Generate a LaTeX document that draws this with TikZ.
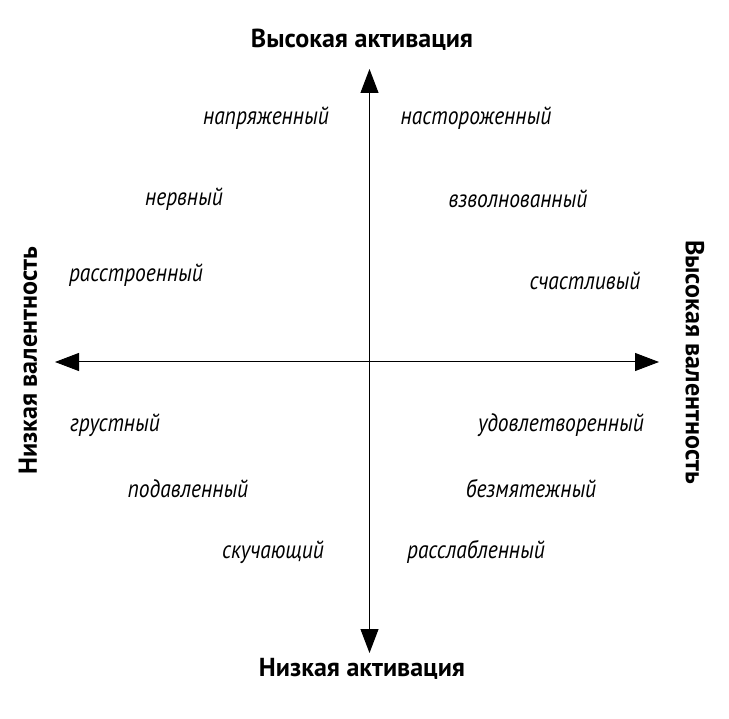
\documentclass[tikz,border=0pt]{standalone}
\usepackage{fontspec}
\setmainfont{PT Sans}[FakeStretch=0.86]
\newfontfamily\titlefont{PT Sans}
\usetikzlibrary{arrows.meta}
\tikzset{
  word/.style={font=\fontsize{25}{28}\selectfont\itshape, inner sep=0pt},
  axistitle/.style={font=\titlefont\fontsize{26}{30}\selectfont\bfseries, inner sep=0pt},
  axisline/.style={line width=1pt, -{Triangle[length=24pt,width=18pt]}}
}
\begin{document}
\begin{tikzpicture}[x=1pt,y=-1pt]
\useasboundingbox (0,0) rectangle (729,719);
\coordinate (c) at (369.5,362);
\coordinate (top) at (369.5,69);
\coordinate (bot) at (369.5,653);
\coordinate (lft) at (55,362);
\coordinate (rgt) at (659,362);
\draw[axisline] (c) -- (top);
\draw[axisline] (c) -- (bot);
\draw[axisline] (c) -- (lft);
\draw[axisline] (c) -- (rgt);
\node[axistitle] (ha) at (362,40) {Высокая активация};
\node[axistitle] (la) at (362,669) {Низкая активация};
\node[axistitle, rotate=90] (lv) at (28,361) {Низкая валентность};
\node[axistitle, rotate=-90] (hv) at (695,362) {Высокая валентность};
\node[word] (w1) at (266,118) {напряженный};
\node[word] (w2) at (476,118) {настороженный};
\node[word] (w3) at (184,199) {нервный};
\node[word] (w4) at (518,199) {взволнованный};
\node[word] (w5) at (136,275) {расстроенный};
\node[word] (w6) at (585,281) {счастливый};
\node[word] (w7) at (115,425) {грустный};
\node[word] (w8) at (561,425) {удовлетворенный};
\node[word] (w9) at (188,489) {подавленный};
\node[word] (w10) at (531,489) {безмятежный};
\node[word] (w11) at (273,552) {скучающий};
\node[word] (w12) at (476,552) {расслабленный};
\end{tikzpicture}
\end{document}
